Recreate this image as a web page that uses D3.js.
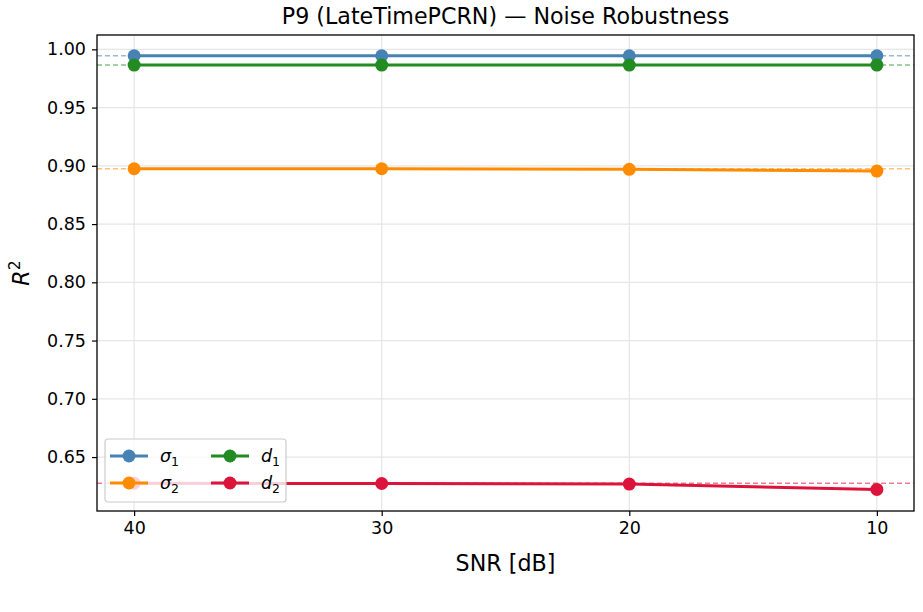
<!DOCTYPE html>
<html>
<head>
<meta charset="utf-8">
<script src="https://cdn.jsdelivr.net/npm/d3@7"></script>
<style>
body { margin: 0; background: #fff; }
text { font-family: "DejaVu Sans", sans-serif; }
</style>
</head>
<body>
<script>
var snr = [40, 30, 20, 10];
var sigma1 = [0.9945, 0.9945, 0.9945, 0.9945];
var sigma2 = [0.8975, 0.8975, 0.897, 0.8955];
var d1 = [0.9865, 0.9865, 0.9865, 0.9865];
var d2 = [0.6275, 0.6273, 0.6268, 0.6222];
var yTicks = [0.65, 0.70, 0.75, 0.80, 0.85, 0.90, 0.95, 1.00];

var series = [
    { name: "σ", sub: "1", values: sigma1, color: "#4682b4" },
    { name: "σ", sub: "2", values: sigma2, color: "#ff8c00" },
    { name: "d", sub: "1", values: d1, color: "#228b22" },
    { name: "d", sub: "2", values: d2, color: "#dc143c" }
];

var margin = { top: 35, right: 9, bottom: 101, left: 97 },
    width = 923 - margin.left - margin.right,
    height = 612 - margin.top - margin.bottom;

var svg = d3.select("body").append("svg")
    .attr("width", 923)
    .attr("height", 612);

var g = svg.append("g").attr("transform", "translate(" + margin.left + "," + margin.top + ")");

var x = d3.scaleLinear().domain([41.5, 8.5]).range([0, width]);
var y = d3.scaleLinear().domain([0.6037, 1.0123]).range([height, 0]);

// grid
g.selectAll(".gy").data(yTicks).enter().append("line")
    .attr("x1", 0).attr("x2", width)
    .attr("y1", function (d) { return y(d); }).attr("y2", function (d) { return y(d); })
    .attr("stroke", "#e6e6e6").attr("stroke-width", 1.2);
g.selectAll(".gx").data(snr).enter().append("line")
    .attr("y1", 0).attr("y2", height)
    .attr("x1", function (d) { return x(d); }).attr("x2", function (d) { return x(d); })
    .attr("stroke", "#e6e6e6").attr("stroke-width", 1.2);

// reference lines at clean value
series.forEach(function (s) {
    g.append("line")
        .attr("x1", 0).attr("x2", width)
        .attr("y1", y(s.values[0])).attr("y2", y(s.values[0]))
        .attr("stroke", s.color).attr("stroke-opacity", 0.55)
        .attr("stroke-width", 1.4).attr("stroke-dasharray", "5,3");
});

var line = d3.line()
    .x(function (d, i) { return x(snr[i]); })
    .y(function (d) { return y(d); });

series.forEach(function (s) {
    g.append("path")
        .datum(s.values)
        .attr("fill", "none")
        .attr("stroke", s.color)
        .attr("stroke-width", 3)
        .attr("d", line);
    g.selectAll(null).data(s.values).enter().append("circle")
        .attr("cx", function (d, i) { return x(snr[i]); })
        .attr("cy", function (d) { return y(d); })
        .attr("r", 6.5)
        .attr("fill", s.color);
});

// axes
var xAxis = g.append("g")
    .attr("transform", "translate(0," + height + ")")
    .call(d3.axisBottom(x).tickValues(snr).tickFormat(d3.format("d")).tickSize(5).tickPadding(6));
var yAxis = g.append("g")
    .call(d3.axisLeft(y).tickValues(yTicks).tickFormat(d3.format(".2f")).tickSize(5).tickPadding(6));
[xAxis, yAxis].forEach(function (a) {
    a.select(".domain").remove();
    a.selectAll("text").attr("font-size", 17.5).attr("fill", "#000").style("font-family", "DejaVu Sans");
    a.selectAll("line").attr("stroke", "#000").attr("stroke-width", 1.2);
});

g.append("rect")
    .attr("width", width).attr("height", height)
    .attr("fill", "none").attr("stroke", "#000").attr("stroke-width", 1.3);

// title & labels
svg.append("text")
    .attr("x", margin.left + width / 2).attr("y", 24)
    .attr("text-anchor", "middle").attr("font-size", 22.2)
    .text("P9 (LateTimePCRN) — Noise Robustness");

svg.append("text")
    .attr("x", margin.left + width / 2).attr("y", 571)
    .attr("text-anchor", "middle").attr("font-size", 22.2)
    .text("SNR [dB]");

var yl = svg.append("text")
    .attr("transform", "translate(29," + (margin.top + height / 2) + ") rotate(-90)")
    .attr("text-anchor", "middle").attr("font-size", 22.2);
yl.append("tspan").attr("font-style", "italic").text("R");
yl.append("tspan").attr("dy", -9).attr("font-size", 15.5).text("2");

// legend
var lg = svg.append("g").attr("transform", "translate(105,439)");
lg.append("rect")
    .attr("width", 181).attr("height", 63).attr("rx", 3)
    .attr("fill", "#fff").attr("fill-opacity", 0.8)
    .attr("stroke", "#ccc").attr("stroke-width", 1.2);
var pos = [[0, 0], [0, 1], [1, 0], [1, 1]];
series.forEach(function (s, i) {
    var lx = 5 + pos[i][0] * 101, ly = 17 + pos[i][1] * 27;
    lg.append("line").attr("x1", lx).attr("x2", lx + 38).attr("y1", ly).attr("y2", ly)
        .attr("stroke", s.color).attr("stroke-width", 3);
    lg.append("circle").attr("cx", lx + 19).attr("cy", ly).attr("r", 6.5).attr("fill", s.color);
    var t = lg.append("text").attr("x", lx + 50).attr("y", ly + 6).attr("font-size", 17.5);
    t.append("tspan").attr("font-style", "italic").text(s.name);
    t.append("tspan").attr("dy", 4).attr("font-size", 12.5).text(s.sub);
});
</script>
</body>
</html>
